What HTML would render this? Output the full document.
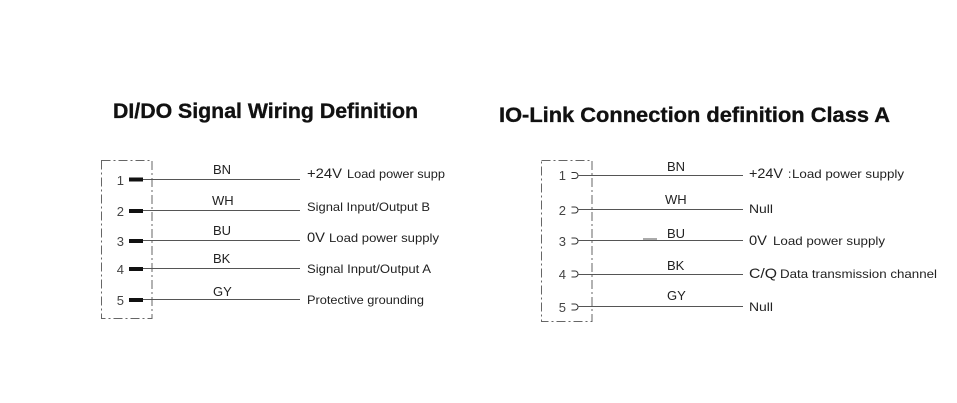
<!DOCTYPE html>
<html>
<head>
<meta charset="utf-8">
<style>
html,body{margin:0;padding:0;background:#fff;}
svg{display:block;}
text{font-family:"Liberation Sans",Arial,sans-serif;fill:#222;}
.t{font-weight:bold;font-size:21px;fill:#111;stroke:#111;stroke-width:0.35;}
.d{font-size:12px;}
.b{font-size:14px;}
.l{font-size:13px;}
.n{font-size:13px;fill:#444;}
</style>
</head>
<body>
<svg width="957" height="403" viewBox="0 0 957 403" xmlns="http://www.w3.org/2000/svg">
<rect width="957" height="403" fill="#fff"/>

<!-- Titles -->
<text class="t" x="113" y="118" textLength="305" lengthAdjust="spacingAndGlyphs">DI/DO Signal Wiring Definition</text>
<text class="t" x="499" y="122" textLength="391" lengthAdjust="spacingAndGlyphs">IO-Link Connection definition Class A</text>

<!-- LEFT DIAGRAM -->
<rect x="101.5" y="160.5" width="50.5" height="158" fill="none" stroke="#666" stroke-width="1" stroke-dasharray="9 3 2 3"/>
<text class="n" x="124" y="185" text-anchor="end">1</text>
<text class="n" x="124" y="216" text-anchor="end">2</text>
<text class="n" x="124" y="246" text-anchor="end">3</text>
<text class="n" x="124" y="274" text-anchor="end">4</text>
<text class="n" x="124" y="305" text-anchor="end">5</text>
<g fill="#111">
<rect x="129" y="177.5" width="14" height="4"/>
<rect x="129" y="209" width="14" height="4"/>
<rect x="129" y="239" width="14" height="4"/>
<rect x="129" y="267" width="14" height="4"/>
<rect x="129" y="298" width="14" height="4"/>
</g>
<g stroke="#555" stroke-width="1">
<line x1="143" y1="179.5" x2="300" y2="179.5"/>
<line x1="143" y1="210.5" x2="300" y2="210.5"/>
<line x1="143" y1="240.5" x2="300" y2="240.5"/>
<line x1="143" y1="268.5" x2="300" y2="268.5"/>
<line x1="143" y1="299.5" x2="300" y2="299.5"/>
</g>
<text class="l" x="213" y="174">BN</text>
<text class="l" x="212" y="205">WH</text>
<text class="l" x="213" y="235">BU</text>
<text class="l" x="213" y="263">BK</text>
<text class="l" x="213" y="296">GY</text>

<text class="b" x="307" y="178" textLength="35" lengthAdjust="spacingAndGlyphs">+24V</text>
<text class="d" x="347" y="178" textLength="98" lengthAdjust="spacingAndGlyphs">Load power supp</text>
<text class="d" x="307" y="211" textLength="123" lengthAdjust="spacingAndGlyphs">Signal Input/Output B</text>
<text class="b" x="307" y="242" textLength="18" lengthAdjust="spacingAndGlyphs">0V</text>
<text class="d" x="329" y="242" textLength="110" lengthAdjust="spacingAndGlyphs">Load power supply</text>
<text class="d" x="307" y="273" textLength="124" lengthAdjust="spacingAndGlyphs">Signal Input/Output A</text>
<text class="d" x="307" y="304" textLength="117" lengthAdjust="spacingAndGlyphs">Protective grounding</text>

<!-- RIGHT DIAGRAM -->
<rect x="541.5" y="160.5" width="50.5" height="161" fill="none" stroke="#666" stroke-width="1" stroke-dasharray="9 3 2 3"/>
<text class="n" x="566" y="180" text-anchor="end">1</text>
<text class="n" x="566" y="215" text-anchor="end">2</text>
<text class="n" x="566" y="246" text-anchor="end">3</text>
<text class="n" x="566" y="279" text-anchor="end">4</text>
<text class="n" x="566" y="312" text-anchor="end">5</text>
<g fill="none" stroke="#333" stroke-width="1">
<path d="M571.5,172.5 H575 A3,3 0 0 1 575,178.5 H571.5"/>
<path d="M571.5,207 H575 A3,3 0 0 1 575,213 H571.5"/>
<path d="M571.5,238 H575 A3,3 0 0 1 575,244 H571.5"/>
<path d="M571.5,271 H575 A3,3 0 0 1 575,277 H571.5"/>
<path d="M571.5,304 H575 A3,3 0 0 1 575,310 H571.5"/>
</g>
<g stroke="#555" stroke-width="1">
<line x1="578" y1="175.5" x2="743" y2="175.5"/>
<line x1="578" y1="209.5" x2="743" y2="209.5"/>
<line x1="578" y1="240.5" x2="743" y2="240.5"/>
<line x1="578" y1="274.5" x2="743" y2="274.5"/>
<line x1="578" y1="306.5" x2="743" y2="306.5"/>
<line x1="643" y1="239" x2="657" y2="239"/>
</g>
<text class="l" x="667" y="171">BN</text>
<text class="l" x="665" y="204">WH</text>
<text class="l" x="667" y="238">BU</text>
<text class="l" x="667" y="270">BK</text>
<text class="l" x="667" y="300">GY</text>

<text class="b" x="749" y="178" textLength="34" lengthAdjust="spacingAndGlyphs">+24V</text>
<text class="d" x="788" y="178">:</text>
<text class="d" x="792" y="178" textLength="112" lengthAdjust="spacingAndGlyphs">Load power supply</text>
<text class="d" x="749" y="213" textLength="24" lengthAdjust="spacingAndGlyphs">Null</text>
<text class="b" x="749" y="245" textLength="18" lengthAdjust="spacingAndGlyphs">0V</text>
<text class="d" x="773" y="245" textLength="112" lengthAdjust="spacingAndGlyphs">Load power supply</text>
<text class="b" x="749" y="278" textLength="28" lengthAdjust="spacingAndGlyphs">C/Q</text>
<text class="d" x="780" y="278" textLength="157" lengthAdjust="spacingAndGlyphs">Data transmission channel</text>
<text class="d" x="749" y="311" textLength="24" lengthAdjust="spacingAndGlyphs">Null</text>
</svg>
</body>
</html>
